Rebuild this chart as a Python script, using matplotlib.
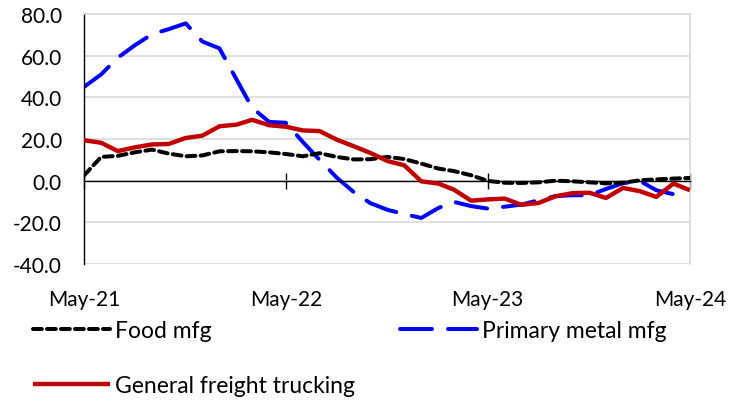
import matplotlib
matplotlib.use("Agg")
import matplotlib.pyplot as plt
import matplotlib.dates as mdates
import numpy as np
import pandas as pd

# monthly series, May-21 .. May-24
months = pd.date_range("2021-05-01", "2024-05-01", freq="MS")

food_mfg = [2.5, 11.4, 11.9, 13.6, 14.9, 13.0, 11.7, 12.1, 14.1, 14.2,
            14.1, 13.6, 12.8, 11.7, 13.2, 11.4, 10.2, 10.3, 11.4, 10.4,
            8.2, 5.8, 4.6, 2.6, -0.1, -1.0, -1.1, -0.8, 0.0, -0.3,
            -0.8, -1.3, -1.0, 0.2, 0.6, 1.0, 1.3]

primary_metal = [45.0, 51.0, 59.0, 65.0, 70.3, 72.7, 75.5, 66.8, 63.5, 48.5,
                 35.0, 28.2, 27.8, 18.5, 10.0, 1.5, -5.5, -10.8, -14.0, -16.0,
                 -17.9, -13.1, -10.2, -12.2, -13.4, -12.5, -11.5, -9.4, -7.4, -7.0,
                 -7.0, -4.0, -1.2, -0.2, -4.6, -6.5, np.nan]

freight_trucking = [19.4, 18.2, 14.2, 16.0, 17.4, 17.6, 20.5, 21.6, 26.1, 26.9,
                    29.2, 26.6, 25.9, 24.1, 23.8, 19.7, 16.5, 13.3, 9.4, 7.4,
                    -0.3, -1.4, -4.3, -9.6, -9.0, -8.6, -11.6, -10.7, -7.5, -6.0,
                    -5.8, -8.3, -3.5, -5.1, -7.8, -1.4, -4.6]

y_ticks = [-40, -20, 0, 20, 40, 60, 80]
x_ticks = ["2021-05-01", "2022-05-01", "2023-05-01", "2024-05-01"]

plt.rcParams['font.family'] = ['Lato', 'DejaVu Sans']

fig = plt.figure(figsize=(7.42, 4.06), dpi=100)
ax = fig.add_axes([84/742, 1-265/406, (690-84)/742, 250/406])

lw = 4.0 * 72 / 100  # about 4 px

l_food, = ax.plot(months, food_mfg, color="black", lw=lw,
                  dashes=(2.2, 1.3), dash_capstyle="round", label="Food mfg", zorder=3)
l_metal, = ax.plot(months, primary_metal, color="#0000FF", lw=lw,
                   dashes=(8, 4.0), dash_capstyle="round", label="Primary metal mfg", zorder=2)
l_truck, = ax.plot(months, freight_trucking, color="#C00000", lw=lw * 1.1,
                   solid_capstyle="butt", label="General freight trucking", zorder=4)

ax.set_ylim(-40, 80)
ax.set_yticks(y_ticks)
ax.set_yticklabels([f"{v:.1f}" for v in y_ticks])
ax.set_xlim(months[0], months[-1])
ax.set_xticks(pd.to_datetime(x_ticks))
ax.xaxis.set_major_formatter(mdates.DateFormatter("%b-%y"))

ax.grid(axis="y", color="#D9D9D9", lw=1.2, zorder=0)
ax.set_axisbelow(True)

for s in ["top", "right"]:
    ax.spines[s].set_color("#D9D9D9")
    ax.spines[s].set_linewidth(1.2)
ax.spines["left"].set_color("black")
ax.spines["left"].set_linewidth(1.0)
ax.spines["bottom"].set_position(("data", 0))
ax.spines["bottom"].set_color("black")
ax.spines["bottom"].set_linewidth(1.0)

ax.tick_params(axis="y", length=0, pad=16, labelsize=15)
ax.tick_params(axis="x", direction="inout", length=12, width=1.0,
               pad=72, labelsize=15)

fig.legend(handles=[l_food, l_truck, l_metal], loc="upper left",
           bbox_to_anchor=(33/742, 1-321/406), ncol=2, frameon=False,
           fontsize=16.5, handlelength=3.36, handletextpad=0.2,
           columnspacing=2.0, labelspacing=1.5, borderpad=0, borderaxespad=0)

fig.savefig("out.png", dpi=100)
